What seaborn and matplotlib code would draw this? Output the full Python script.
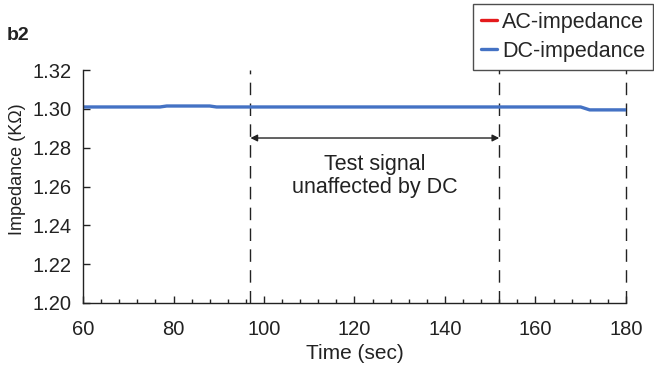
import matplotlib
matplotlib.use("Agg")
import matplotlib.pyplot as plt
import seaborn as sns
import pandas as pd
from matplotlib.ticker import MultipleLocator

# ---- data ----
time_s = [60, 77, 78.5, 88, 89.5, 170, 172, 180]
ac_impedance = [1.301, 1.301, 1.3015, 1.3015, 1.301, 1.301, 1.2995, 1.2995]
dc_impedance = [1.301, 1.301, 1.3015, 1.3015, 1.301, 1.301, 1.2995, 1.2995]
series_names = ["AC-impedance", "DC-impedance"]
marker_times = [97, 152, 180]
arrow_span = [97, 152]
arrow_level = 1.285
x_ticks = [60, 80, 100, 120, 140, 160, 180]
y_ticks = [1.20, 1.22, 1.24, 1.26, 1.28, 1.30, 1.32]

df = pd.DataFrame({
    "Time": time_s * 2,
    "Impedance": ac_impedance + dc_impedance,
    "Series": [series_names[0]] * len(time_s) + [series_names[1]] * len(time_s),
})

sns.set_theme(style="ticks")
plt.rcParams["font.family"] = ["Liberation Sans", "DejaVu Sans"]

TXT = "#222222"
fig = plt.figure(figsize=(6.54, 3.73), dpi=100)
ax = fig.add_axes([0.127, 0.188, 0.830, 0.624])

palette = {series_names[0]: "#e41a1c", series_names[1]: "#4472c4"}
sns.lineplot(data=df, x="Time", y="Impedance", hue="Series", palette=palette,
             linewidth=2.4, ax=ax, legend=True)
# AC line sits underneath the DC line; keep it hidden
ax.lines[0].set_linewidth(1.2)

for t in marker_times:
    ax.axvline(t, color=TXT, linewidth=1.0, dashes=(9, 6), zorder=1, clip_on=False)

ax.annotate("", xy=(arrow_span[0], arrow_level), xytext=(arrow_span[1], arrow_level),
            arrowprops=dict(arrowstyle="<|-|>", color=TXT, lw=1.0,
                            mutation_scale=10, shrinkA=0, shrinkB=0))
ax.text(sum(arrow_span) / 2, 1.2655, "Test signal\nunaffected by DC", ha="center",
        va="center", fontsize=15.5, color=TXT, linespacing=1.1)

ax.set_xlim(60, 180)
ax.set_ylim(1.20, 1.32)
ax.set_xticks(x_ticks)
ax.set_yticks(y_ticks)
ax.set_yticklabels([f"{v:.2f}" for v in y_ticks])
ax.xaxis.set_minor_locator(MultipleLocator(4))
ax.tick_params(axis="both", which="major", direction="in", length=5, width=1,
               labelsize=14.5, colors=TXT)
ax.tick_params(axis="x", which="major", pad=12)
ax.tick_params(axis="y", which="major", pad=8)
ax.tick_params(axis="x", which="minor", direction="in", length=3, width=1,
               colors=TXT)
for s in ["top", "right"]:
    ax.spines[s].set_visible(False)
for s in ["left", "bottom"]:
    ax.spines[s].set_color(TXT)
    ax.spines[s].set_linewidth(1.0)

ax.set_xlabel("Time (sec)", fontsize=15, color=TXT, labelpad=4)
ax.set_ylabel("Impedance (KΩ)", fontsize=13, color=TXT)
ax.yaxis.set_label_coords(-0.105, 0.575)

leg = ax.legend(loc="upper right", bbox_to_anchor=(653 / 654, 1 - 4 / 373),
                bbox_transform=fig.transFigure, fontsize=15.5, frameon=True,
                fancybox=False, edgecolor=TXT, handlelength=0.75,
                handletextpad=0.25, borderpad=0.36, labelspacing=0.38,
                borderaxespad=0.0)
leg.get_frame().set_linewidth(1.0)
for line in leg.get_lines():
    line.set_linewidth(2.4)

fig.text(0.010, 0.893, "b2", fontsize=14, fontweight="bold", color=TXT)

fig.savefig("out.png", dpi=100)
